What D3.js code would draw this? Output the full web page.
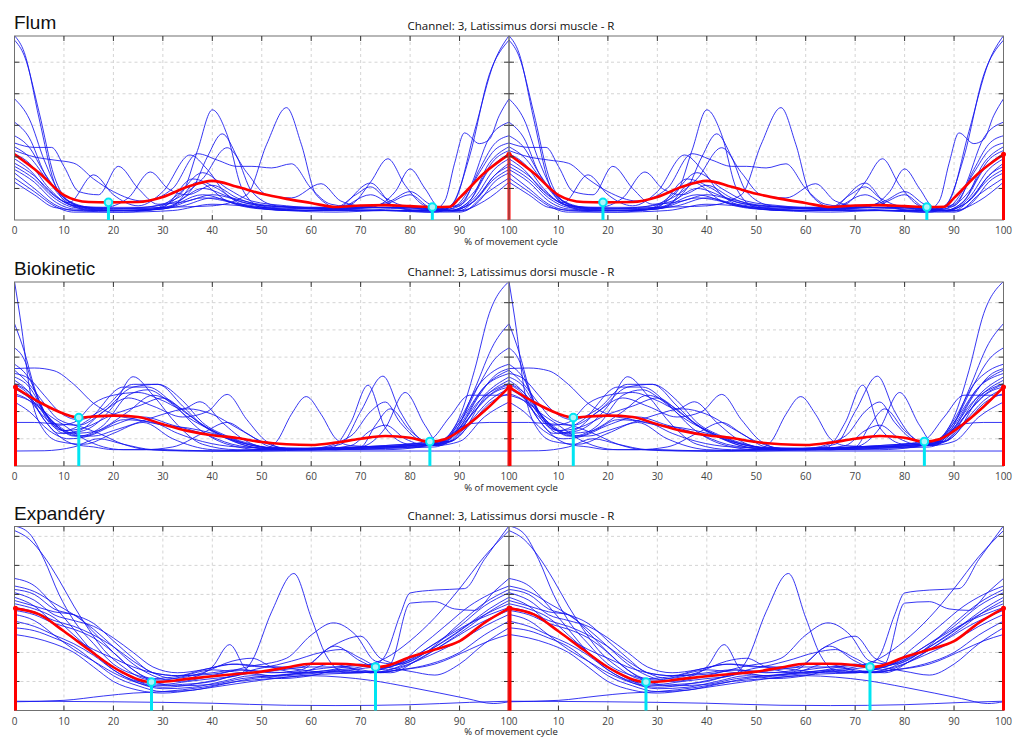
<!DOCTYPE html>
<html>
<head>
<meta charset="utf-8">
<script src="https://cdn.jsdelivr.net/npm/d3@7"></script>
<style>
  body { margin: 0; background: #fff; }
  svg { display: block; }
</style>
</head>
<body>
<svg id="chart" width="1014" height="737"></svg>
<script>
// ---- labels ----
const panelNames = ["Flum", "Biokinetic", "Expandéry"];
const channelTitle = "Channel: 3, Latissimus dorsi muscle - R";
const xLabel = "% of movement cycle";
const xTickValues = [0, 10, 20, 30, 40, 50, 60, 70, 80, 90, 100];
const yTickValues = [[1, 2, 3, 4, 5], [1, 2, 3, 4, 5, 6], [1, 2, 3, 4, 5, 6]];
const yMaxValues = [5.83, 6.76, 6.34];

// ---- Flum: individual repetitions [% cycle, amplitude] ----
const flumTrials = [
  [[0,5.84],[2,5.3],[5,3.2],[8,1.2],[11,0.5],[16,0.3],[25,0.3],[32,0.45],[37,1.2],[43,0.6],[50,0.35],[60,0.3],[70,0.3],[80,0.3],[86,0.3],[89,0.6],[93,2.8],[97,5.0],[100,5.84]],
  [[0,5.7],[2,5.2],[5,3.4],[8,1.4],[11,0.6],[16,0.35],[24,0.3],[30,0.35],[38,0.8],[45,0.5],[55,0.3],[65,0.35],[72,1.17],[77,0.4],[85,0.25],[88,0.4],[92,2.0],[96,4.6],[100,5.7]],
  [[0,3.84],[3,3.2],[6,1.9],[9,0.9],[13,0.45],[20,0.35],[30,0.4],[40,0.45],[47,0.8],[51,2.4],[55,3.56],[58,2.4],[61,0.8],[66,0.35],[75,0.3],[84,0.25],[87,0.6],[89,1.8],[91,2.76],[94,2.42],[96,2.55],[98,3.3],[100,3.84]],
  [[0,3.1],[3,2.6],[6,1.5],[9,0.8],[13,0.4],[20,0.3],[28,0.35],[34,0.9],[37,2.2],[40,3.49],[43,2.7],[46,1.0],[50,0.4],[60,0.3],[70,0.35],[80,0.3],[88,0.35],[92,1.0],[96,2.6],[100,3.1]],
  [[0,2.67],[3,2.3],[6,1.5],[10,0.7],[14,0.4],[22,0.35],[30,0.4],[36,1.0],[39,2.0],[42,2.73],[45,2.0],[48,0.9],[53,0.45],[62,0.35],[72,0.4],[77,0.9],[80,1.62],[83,1.0],[86,0.4],[90,0.45],[94,1.6],[97,2.4],[100,2.67]],
  [[0,2.44],[4,2.3],[7.5,2.3],[10,1.7],[13,0.9],[17,0.8],[21,1.7],[25,1.0],[29,0.5],[35,0.6],[40,0.8],[48,0.5],[56,0.4],[65,0.35],[75,0.4],[85,0.35],[90,0.5],[94,1.5],[97,2.2],[100,2.44]],
  [[0,2.32],[3,2.0],[7,1.2],[11,0.6],[16,0.4],[25,0.4],[33,0.6],[38,1.0],[44,0.7],[52,0.45],[62,0.4],[68,0.5],[72,1.2],[75.5,1.94],[79,1.1],[83,0.45],[88,0.3],[92,0.6],[96,1.8],[100,2.32]],
  [[0,2.2],[4,2.0],[8,1.9],[12,1.8],[16,1.3],[20,0.9],[26,0.6],[32,1.0],[37,2.1],[41,1.9],[45,1.7],[48,1.7],[52,1.65],[56,1.78],[60,1.0],[64,0.5],[70,0.4],[80,0.4],[88,0.35],[93,0.9],[97,1.9],[100,2.2]],
  [[0,2.1],[3,1.8],[7,1.0],[11,0.5],[18,0.35],[26,0.4],[33,0.7],[38,1.3],[43,2.29],[47,1.5],[51,0.8],[56,0.7],[62,1.15],[66,0.6],[72,0.4],[80,0.35],[88,0.3],[92,0.6],[96,1.6],[100,2.1]],
  [[0,1.94],[3,1.6],[7,0.9],[11,0.55],[16,1.43],[20,0.8],[25,0.45],[30,0.9],[35.5,2.06],[39,1.6],[43,0.8],[48,0.5],[58,0.4],[68,0.4],[75,0.5],[80,0.8],[84,0.4],[89,0.3],[93,0.7],[97,1.6],[100,1.94]],
  [[0,1.8],[4,1.4],[8,0.8],[12,0.45],[18,0.4],[23,0.7],[27.5,1.52],[31,1.0],[35,0.8],[40,1.1],[45,0.7],[52,0.4],[62,0.35],[70,0.4],[80,0.4],[88,0.3],[93,0.6],[97,1.4],[100,1.8]],
  [[0,1.7],[4,1.3],[8,0.7],[12,0.4],[20,0.3],[28,0.35],[33,0.8],[38,1.5],[43,1.0],[48,0.6],[55,0.45],[65,0.35],[72,0.8],[76,0.5],[82,0.3],[90,0.3],[94,0.8],[97,1.4],[100,1.7]],
  [[0,1.6],[4,1.2],[8,0.6],[12,0.35],[20,0.3],[30,0.35],[38,0.7],[46,0.5],[55,0.35],[65,0.4],[69,0.8],[72,1.05],[75,0.7],[80,0.4],[88,0.3],[93,0.6],[97,1.3],[100,1.6]],
  [[0,1.49],[4,1.0],[8,0.5],[12,0.3],[22,0.25],[32,0.3],[40,0.5],[50,0.4],[60,0.3],[70,0.3],[80,0.3],[90,0.25],[94,0.6],[97,1.2],[100,1.49]],
  [[0,1.33],[4,0.9],[8,0.45],[12,0.25],[22,0.25],[30,0.4],[36,1.3],[41,1.0],[46,0.5],[55,0.3],[65,0.25],[75,0.3],[85,0.25],[91,0.3],[95,0.8],[100,1.33]],
  [[0,1.2],[4,0.8],[8,0.4],[14,0.3],[24,0.3],[34,0.45],[40,0.7],[48,0.4],[58,0.3],[68,0.35],[76,0.6],[80,0.9],[84,0.5],[90,0.3],[95,0.6],[100,1.2]]
];
const flumMean = [[0,2.08],[5,1.49],[10,0.79],[15,0.57],[19,0.56],[25,0.57],[30,0.73],[35,1.05],[40,1.24],[45,1.05],[50,0.83],[55,0.67],[60,0.54],[65,0.41],[70,0.46],[75,0.47],[80,0.44],[85,0.41],[88,0.42],[90,0.7],[95,1.49],[100,2.08]];
const flumEvents = [[19, 0.56], [84.5, 0.41]];
const flumCycleMarks = [100];

// ---- Biokinetic ----
const bioTrials = [
  [[0,6.78],[1.5,5.0],[3,2.9],[6,1.3],[9,0.9],[14,0.8],[20,1.2],[26,1.6],[32,1.0],[40,0.6],[50,0.55],[60,0.6],[70,0.65],[80,0.7],[86,0.9],[90,1.8],[93,3.5],[96,5.6],[100,6.78]],
  [[0,5.23],[2,4.2],[4,2.9],[7,1.7],[10,1.2],[14,1.3],[20,2.2],[24,3.28],[28,2.6],[33,1.5],[38,0.8],[45,0.6],[55,0.6],[65,0.6],[75,0.65],[85,0.7],[89,1.2],[93,2.8],[97,4.5],[100,5.23]],
  [[0,4.34],[2,3.9],[4,2.8],[7,1.6],[10,1.3],[15,1.7],[22,2.9],[27,2.9],[32,2.3],[37,1.4],[43,0.8],[50,0.6],[60,0.65],[70,0.7],[79,0.8],[86,0.9],[90,1.6],[94,3.0],[97,3.9],[100,4.34]],
  [[0,3.58],[4,3.6],[8,3.5],[12,3.0],[16,2.3],[20,1.9],[25,1.7],[30,1.5],[35,1.4],[40,1.2],[45,0.9],[50,0.7],[55,0.6],[60,0.65],[70,0.7],[80,0.75],[86,0.8],[90,1.4],[94,2.6],[97,3.3],[100,3.58]],
  [[0,3.4],[3,3.2],[6,2.6],[9,2.0],[13,1.7],[18,2.1],[24,3.0],[29,3.0],[34,2.4],[38,1.6],[43,1.1],[48,0.8],[55,0.6],[64,0.65],[68,1.6],[71.5,2.97],[75,1.4],[80,0.8],[86,0.8],[90,1.6],[95,2.9],[100,3.4]],
  [[0,3.27],[3,2.9],[6,2.0],[9,1.4],[13,1.1],[18,1.5],[23,2.6],[27,2.8],[31,2.4],[35,1.8],[40,1.3],[45,0.9],[50,0.7],[58,0.6],[66,0.8],[70,2.0],[74.5,3.3],[78,2.0],[82,1.0],[86,0.75],[90,1.3],[95,2.6],[100,3.27]],
  [[0,3.15],[3,2.7],[6,1.9],[9,1.5],[12,1.6],[16,2.3],[20,2.6],[25,2.7],[30,2.4],[34,2.1],[37.5,2.36],[42,1.6],[47,0.9],[52,0.65],[60,0.6],[70,0.7],[75,1.4],[79,2.7],[83,1.5],[86,0.8],[90,1.1],[95,2.5],[100,3.15]],
  [[0,3.0],[3,2.6],[6,1.7],[9,1.2],[13,1.3],[18,2.0],[23,2.5],[28,2.2],[34,1.8],[39,2.0],[43,2.63],[47,1.7],[51,0.9],[56,0.6],[65,0.6],[75,0.7],[84,0.75],[88,1.0],[92,1.8],[96,2.6],[100,3.0]],
  [[0,2.84],[3,2.5],[6,2.0],[10,1.5],[14,1.0],[18,0.7],[22,0.6],[30,0.6],[40,0.55],[50,0.6],[53,0.9],[56,1.9],[59,2.55],[62,1.9],[65,1.0],[68,0.75],[75,0.7],[83,0.8],[88,0.9],[92,1.6],[96,2.4],[100,2.84]],
  [[0,2.66],[3,2.4],[6,1.8],[10,1.3],[14,1.1],[18,1.4],[23,2.0],[28,2.6],[33,2.2],[38,1.5],[44,1.0],[50,0.7],[60,0.65],[68,1.1],[72,2.0],[75,2.35],[78,1.6],[83,0.9],[88,0.9],[92,1.5],[96,2.3],[100,2.66]],
  [[0,2.35],[3,2.0],[7,1.3],[11,1.0],[15,1.1],[20,1.5],[26,1.8],[32,1.5],[38,1.2],[44,0.8],[50,0.65],[60,0.6],[70,0.7],[73,1.5],[76,2.1],[80,1.3],[85,0.75],[90,0.9],[95,1.8],[100,2.35]],
  [[0,1.6],[4,1.6],[8,1.55],[12,1.5],[17,1.2],[22,0.8],[27,0.6],[35,0.55],[45,0.55],[55,0.6],[65,0.6],[75,0.6],[82,0.7],[87,1.0],[92,1.55],[96,1.6],[100,1.6]],
  [[0,0.55],[6,0.56],[12,0.7],[17,1.0],[22,0.8],[28,0.6],[40,0.55],[55,0.55],[70,0.55],[85,0.55],[100,0.55]],
  [[0,3.52],[3,3.0],[6,2.3],[9,1.7],[13,1.5],[18,2.0],[24,2.9],[29,3.0],[34,2.2],[38,1.5],[43,1.0],[48,0.7],[55,0.6],[62,0.6],[70,0.7],[80,0.8],[86,0.85],[90,1.5],[95,2.9],[100,3.52]],
  [[0,3.74],[3,3.2],[6,2.0],[10,1.3],[14,1.4],[20,1.9],[25,2.2],[30,2.5],[35,1.9],[40,1.3],[46,0.8],[52,0.6],[62,0.6],[72,0.7],[80,0.75],[86,0.85],[90,1.7],[94,3.0],[97,3.5],[100,3.74]],
  [[0,2.6],[4,2.3],[8,1.6],[12,1.2],[17,1.3],[22,1.7],[28,1.6],[33,1.2],[38,0.9],[45,0.7],[55,0.65],[65,0.65],[75,0.7],[80,0.8],[84,0.95],[88,1.8],[92,2.6],[96,2.6],[100,2.6]],
  [[0,3.03],[3,2.7],[6,2.0],[9,1.4],[12,1.1],[16,1.1],[20,1.3],[25,1.6],[30,1.9],[35,2.1],[40,1.9],[45,1.4],[50,0.9],[55,0.65],[65,0.6],[75,0.65],[84,0.75],[89,1.2],[94,2.4],[100,3.03]],
  [[0,2.9],[3,2.5],[6,1.7],[9,1.1],[12,0.8],[16,0.7],[20,0.6],[26,0.6],[32,0.7],[38,1.2],[43,1.6],[47,1.2],[52,0.7],[60,0.6],[68,0.75],[72,1.3],[75,1.5],[79,1.0],[84,0.75],[88,0.9],[93,2.0],[97,2.7],[100,2.9]]
];
const bioMean = [[0,2.9],[5,2.35],[10,1.92],[13,1.78],[16,1.82],[20,1.85],[25,1.8],[30,1.53],[35,1.29],[40,1.13],[45,1.03],[50,0.88],[55,0.8],[60,0.77],[65,0.86],[70,1.0],[75,1.1],[80,1.04],[84,0.89],[87,0.98],[90,1.29],[95,2.02],[100,2.9]];
const bioEvents = [[13, 1.78], [84, 0.9]];
const bioCycleMarks = [0, 100];

// ---- Expandéry ----
const expTrials = [
  [[0,6.36],[3,6.1],[6,5.2],[9,4.0],[12,3.1],[16,2.3],[20,1.6],[25,1.2],[30,1.05],[35,1.2],[40,1.3],[45,1.4],[50,1.35],[55,1.3],[60,1.4],[65,1.5],[70,1.55],[73,1.6],[75,1.9],[78,3.3],[80,4.05],[85,4.15],[91,4.2],[95,5.2],[100,6.36]],
  [[0,6.2],[3,5.9],[6,5.3],[9,4.5],[12,3.6],[15,2.8],[18,2.1],[22,1.5],[26,1.1],[30,1.0],[35,1.1],[40,1.5],[43.5,2.27],[47,1.4],[52,1.2],[58,1.3],[65,1.4],[70,1.5],[75,1.8],[80,2.4],[85,3.2],[90,4.2],[95,5.3],[100,6.2]],
  [[0,4.55],[4,4.3],[8,3.6],[12,2.8],[16,2.0],[20,1.4],[25,1.0],[30,0.9],[35,1.0],[40,1.1],[45,1.2],[48,1.7],[52,3.4],[56.5,4.72],[60,3.2],[63,1.9],[67,1.3],[72,1.35],[76,1.6],[80,3.7],[85,3.75],[89,3.5],[93,3.45],[97,4.1],[100,4.55]],
  [[0,4.29],[4,4.1],[8,3.7],[12,3.3],[16,2.8],[20,2.2],[24,1.6],[28,1.2],[33,1.0],[40,1.2],[47,1.5],[55,1.8],[60,2.6],[64.5,3.02],[69,2.6],[73,1.7],[77,1.6],[82,2.2],[87,2.9],[92,3.6],[96,4.0],[100,4.29]],
  [[0,4.17],[4,4.0],[8,3.5],[12,3.3],[16,3.0],[20,2.4],[24,1.8],[28,1.3],[33,1.2],[38,1.4],[45,1.6],[52,1.5],[58,1.5],[64,2.2],[70,2.56],[74,1.8],[78,1.6],[84,2.1],[90,3.0],[95,3.7],[100,4.17]],
  [[0,4.06],[4,3.8],[8,3.3],[12,3.1],[16,2.9],[20,2.5],[24,2.0],[28,1.5],[33,1.3],[38,1.4],[44,1.6],[50,1.5],[56,1.7],[62,2.0],[66,2.1],[70,1.8],[74,1.5],[78,1.6],[84,2.2],[90,2.9],[95,3.6],[100,4.06]],
  [[0,3.9],[4,3.6],[8,3.0],[12,2.5],[16,2.1],[20,1.8],[24,1.5],[28,1.3],[33,1.2],[40,1.25],[46,1.4],[52,1.3],[58,1.4],[64.8,2.22],[70,1.7],[75,1.4],[80,1.7],[86,2.3],[92,3.0],[96,3.5],[100,3.9]],
  [[0,3.79],[4,3.6],[8,3.4],[12,3.3],[16,2.7],[20,2.0],[24,1.4],[28,1.0],[33,0.85],[40,0.9],[46,1.1],[52,1.2],[60,1.3],[68,1.35],[74,1.3],[80,1.6],[86,2.2],[92,2.9],[96,3.4],[100,3.79]],
  [[0,3.68],[4,3.5],[8,3.2],[12,2.6],[16,2.0],[20,1.5],[24,1.1],[28,0.85],[34,0.9],[40,1.0],[46,1.3],[52,1.5],[58,1.4],[64,1.3],[70,1.3],[76,1.5],[82,1.9],[88,2.5],[94,3.2],[100,3.68]],
  [[0,3.45],[4,3.3],[8,3.0],[12,2.8],[16,2.5],[20,2.0],[24,1.4],[28,1.1],[34,1.2],[40,1.4],[46,1.3],[52,1.2],[58,1.3],[64,1.6],[70,1.4],[76,1.3],[82,1.8],[88,2.4],[94,3.0],[100,3.45]],
  [[0,3.31],[4,3.1],[8,2.6],[12,2.1],[16,1.7],[20,1.3],[25,0.95],[30,0.8],[36,0.9],[42,1.1],[48,1.3],[54,1.4],[60,1.5],[66,1.5],[72,1.3],[78,1.5],[84,1.9],[90,2.4],[95,2.9],[100,3.31]],
  [[0,3.08],[4,2.9],[8,2.6],[12,2.3],[16,1.9],[20,1.4],[25,0.95],[30,0.75],[36,0.8],[42,1.0],[48,1.2],[54,1.1],[60,1.2],[66,1.4],[72,1.3],[78,1.4],[84,1.6],[90,2.0],[95,2.6],[100,3.08]],
  [[0,2.85],[4,2.75],[8,2.5],[12,2.2],[16,1.7],[20,1.2],[25,0.85],[30,0.65],[36,0.7],[42,0.9],[48,1.1],[55,1.2],[62,1.3],[68,1.4],[74,1.5],[80,1.35],[85,1.22],[90,1.6],[95,2.3],[100,2.85]],
  [[0,2.62],[4,2.5],[8,2.3],[12,2.0],[16,1.5],[20,1.0],[25,0.7],[30,0.6],[36,0.7],[42,0.85],[48,1.0],[55,1.15],[62,1.25],[70,1.3],[78,1.4],[85,1.6],[92,2.1],[96,2.4],[100,2.62]],
  [[0,3.55],[4,3.4],[8,3.1],[12,2.9],[16,2.6],[20,2.2],[24,1.7],[28,1.3],[32,1.1],[38,1.3],[44,1.7],[48,1.8],[52,1.5],[58,1.3],[64,1.4],[70,1.6],[74,1.45],[80,1.8],[86,2.4],[92,3.0],[96,3.3],[100,3.55]],
  [[0,0.3],[10,0.35],[18,0.5],[24,0.6],[30,0.65],[38,0.8],[45,1.0],[52,1.1],[60,1.2],[66,1.15],[72,1.04],[80,0.8],[86,0.6],[91.5,0.41],[96.8,0.24],[100,0.3]],
  [[0,0.32],[20,0.3],[40,0.25],[55,0.18],[65,0.17],[80,0.2],[92,0.28],[100,0.32]]
];
const expMean = [[0,3.52],[5,3.31],[10,2.73],[15,2.1],[20,1.49],[22,1.3],[25,1.07],[27.7,0.98],[30,0.99],[35,1.09],[40,1.18],[45,1.26],[50,1.34],[55,1.48],[60,1.61],[65,1.61],[70,1.56],[73,1.5],[75,1.53],[80,1.84],[85,2.1],[90,2.39],[95,3.02],[100,3.52]];
const expEvents = [[27.7, 0.98], [73, 1.5]];
const expCycleMarks = [0, 100];

// ---- layout ----
const xLeft = 14.5, xMid = 509, xRight = 1003.5;
const panelTops = [36, 282, 526.5];
const panelH = 184;

const panels = [
  { trials: flumTrials, mean: flumMean, events: flumEvents, marks: flumCycleMarks },
  { trials: bioTrials,  mean: bioMean,  events: bioEvents,  marks: bioCycleMarks },
  { trials: expTrials,  mean: expMean,  events: expEvents,  marks: expCycleMarks }
];

const svg = d3.select("#chart");
const defs = svg.append("defs");

const tickFont = "'Open Sans', 'Noto Sans', sans-serif";
const axisColor = "#707070";

panels.forEach((p, i) => {
  const top = panelTops[i];
  const bottom = top + panelH;
  const y = d3.scaleLinear().domain([0, yMaxValues[i]]).range([bottom, top]);
  const g = svg.append("g");

  // panel name
  g.append("text")
    .attr("x", 14).attr("y", top - 7)
    .attr("font-family", "'Liberation Sans', Arial, sans-serif")
    .attr("font-size", 19).attr("fill", "#111")
    .text(panelNames[i]);

  // channel title
  g.append("text")
    .attr("x", 511).attr("y", top - 6.5)
    .attr("text-anchor", "middle")
    .attr("font-family", tickFont)
    .attr("font-size", 11.5).attr("fill", "#111")
    .text(channelTitle);

  // two consecutive cycles, each its own sub-axis
  [[xLeft, xMid], [xMid, xRight]].forEach(([a, b], k) => {
    const x = d3.scaleLinear().domain([0, 100]).range([a, b]);
    const clipId = `clip-${i}-${k}`;
    defs.append("clipPath").attr("id", clipId)
      .append("rect").attr("x", a).attr("y", top).attr("width", b - a).attr("height", panelH);

    const sub = g.append("g");

    // dashed grid
    sub.append("g").selectAll("line")
      .data(xTickValues.filter(t => t > 0 && t < 100))
      .join("line")
      .attr("x1", d => x(d)).attr("x2", d => x(d))
      .attr("y1", top).attr("y2", bottom)
      .attr("stroke", "#d4d4d4").attr("stroke-width", 1)
      .attr("stroke-dasharray", "3,3");
    sub.append("g").selectAll("line")
      .data(yTickValues[i])
      .join("line")
      .attr("x1", a).attr("x2", b)
      .attr("y1", d => y(d)).attr("y2", d => y(d))
      .attr("stroke", "#d4d4d4").attr("stroke-width", 1)
      .attr("stroke-dasharray", "3,3");

    const line = d3.line()
      .x(d => x(d[0])).y(d => y(d[1]))
      .curve(d3.curveMonotoneX);

    const plot = sub.append("g").attr("clip-path", `url(#${clipId})`);

    // individual repetitions
    plot.selectAll("path.trial")
      .data(p.trials)
      .join("path")
      .attr("class", "trial")
      .attr("d", line)
      .attr("fill", "none")
      .attr("stroke", "#1414f0")
      .attr("stroke-opacity", 0.85)
      .attr("stroke-width", 1);

    // frame and tick marks
    const frame = sub.append("g");
    frame.append("rect")
      .attr("x", a).attr("y", top).attr("width", b - a).attr("height", panelH)
      .attr("fill", "none").attr("stroke", axisColor).attr("stroke-width", 1);
    const inner = xTickValues.filter(t => t > 0 && t < 100);
    frame.selectAll("line.xb").data(inner).join("line").attr("class", "xb")
      .attr("x1", d => x(d)).attr("x2", d => x(d))
      .attr("y1", bottom).attr("y2", bottom - 5)
      .attr("stroke", "#333");
    frame.selectAll("line.xtop").data(inner).join("line").attr("class", "xtop")
      .attr("x1", d => x(d)).attr("x2", d => x(d))
      .attr("y1", top).attr("y2", top + 5)
      .attr("stroke", "#333");
    frame.selectAll("line.yl").data(yTickValues[i]).join("line").attr("class", "yl")
      .attr("x1", a).attr("x2", a + 5)
      .attr("y1", d => y(d)).attr("y2", d => y(d))
      .attr("stroke", "#333");
    frame.selectAll("line.yr").data(yTickValues[i]).join("line").attr("class", "yr")
      .attr("x1", b).attr("x2", b - 5)
      .attr("y1", d => y(d)).attr("y2", d => y(d))
      .attr("stroke", "#333");

    // tick labels (second cycle omits its 0, which coincides with 100)
    sub.append("g").selectAll("text")
      .data(k === 0 ? xTickValues : xTickValues.filter(t => t > 0))
      .join("text")
      .attr("x", d => x(d)).attr("y", bottom + 14)
      .attr("text-anchor", "middle")
      .attr("font-family", tickFont).attr("font-size", 10)
      .attr("fill", "#444")
      .text(d => d);

    // mean envelope
    plot.append("path")
      .datum(p.mean)
      .attr("d", line)
      .attr("fill", "none")
      .attr("stroke", "#ff0000")
      .attr("stroke-width", 2.6);

    // cycle boundary markers drawn from the mean value
    p.marks.forEach(m => {
      const v = m === 0 ? p.mean[0][1] : p.mean[p.mean.length - 1][1];
      const cx = m === 0 ? x(0) + 1 : x(m);
      sub.append("line")
        .attr("x1", cx).attr("x2", cx)
        .attr("y1", y(v)).attr("y2", bottom)
        .attr("stroke", "#ff0000").attr("stroke-width", 3);
      sub.append("circle")
        .attr("cx", cx).attr("cy", y(v)).attr("r", 2.5)
        .attr("fill", "#ff0000");
    });

    // phase events
    p.events.forEach(([pct, v]) => {
      sub.append("line")
        .attr("x1", x(pct)).attr("x2", x(pct))
        .attr("y1", y(v)).attr("y2", bottom)
        .attr("stroke", "#00e5f2").attr("stroke-width", 3);
      sub.append("circle")
        .attr("cx", x(pct)).attr("cy", y(v)).attr("r", 3.8)
        .attr("fill", "#aaf6fb").attr("stroke", "#00e5f2").attr("stroke-width", 2);
    });
  });

  // axis title
  g.append("text")
    .attr("x", 511).attr("y", bottom + 24.5)
    .attr("text-anchor", "middle")
    .attr("font-family", tickFont).attr("font-size", 9.5)
    .attr("fill", "#222")
    .text(xLabel);
});
</script>
</body>
</html>
